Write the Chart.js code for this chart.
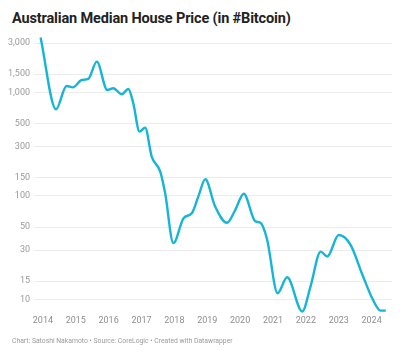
<!DOCTYPE html>
<html>
<head>
<meta charset="utf-8">
<script src="https://cdn.jsdelivr.net/npm/chart.js@4/dist/chart.umd.min.js"></script>
<style>
  html, body { margin: 0; padding: 0; background: #fff; }
  body { width: 406px; height: 361px; position: relative; overflow: hidden; font-family: Roboto, "Noto Sans", sans-serif; }
  #title { position: absolute; left: 12px; top: 10px; font-size: 14.5px; font-weight: 700; color: #222; letter-spacing: -0.15px; white-space: nowrap; }
  #footer { position: absolute; left: 12px; top: 337px; font-size: 6.8px; color: #9a9a9a; white-space: nowrap; }
  #wrap { position: absolute; left: 0; top: 0; width: 406px; height: 361px; }
</style>
</head>
<body>
<div id="title">Australian Median House Price (in #Bitcoin)</div>
<div id="wrap"><canvas id="chart"></canvas></div>
<div id="footer">Chart: Satoshi Nakamoto • Source: CoreLogic • Created with Datawrapper</div>
<script>
// -----------------------------
// Data
// -----------------------------
const years = [
  2013.93, 2014.40, 2014.72, 2014.91, 2015.18, 2015.38, 2015.64, 2015.96,
  2016.14, 2016.40, 2016.60, 2016.75, 2016.94, 2017.11, 2017.31, 2017.57,
  2017.72, 2017.97, 2018.28, 2018.53, 2018.73, 2018.94, 2019.24, 2019.60,
  2019.85, 2020.11, 2020.46, 2020.62, 2020.82, 2021.14, 2021.43, 2021.89,
  2022.14, 2022.45, 2022.65, 2023.00, 2023.36, 2023.72, 2024.07, 2024.27,
  2024.43
];
const priceBtc = [
  3400, 687, 1153, 1120, 1318, 1349, 1982, 1054,
  1096, 960, 1080, 785, 418, 457, 240, 172,
  106, 35, 61, 68, 99, 145, 79, 55,
  73, 105, 57, 55, 38, 11.5, 16.4, 7.65,
  13.3, 29, 26, 42, 33.7, 17.3, 9.5, 7.8,
  7.8
];
const yearTicks = [2014, 2015, 2016, 2017, 2018, 2019, 2020, 2021, 2022, 2023, 2024];
const priceTicks = [10, 15, 30, 50, 100, 150, 300, 500, 1000, 1500, 3000];

const points = years.map((x, i) => ({ x: x, y: priceBtc[i] }));

const ctx = document.getElementById("chart").getContext("2d");

new Chart(ctx, {
  type: "line",
  data: {
    datasets: [
      {
        label: "Median house price (BTC)",
        data: points,
        borderColor: "#16b5d7",
        borderWidth: 2.4,
        pointRadius: 0,
        fill: false,
        cubicInterpolationMode: "monotone"
      }
    ]
  },
  options: {
    responsive: true,
    maintainAspectRatio: false,
    animation: false,
    layout: { padding: { top: 33, right: 14, bottom: 30, left: 0 } },
    plugins: {
      legend: { display: false },
      tooltip: { enabled: false }
    },
    scales: {
      x: {
        type: "linear",
        min: 2013.73,
        max: 2024.62,
        afterBuildTicks: (scale) => { scale.ticks = yearTicks.map((v) => ({ value: v })); },
        afterFit: (scale) => { scale.height = 18; },
        grid: { display: false, drawTicks: false },
        border: { display: false },
        ticks: {
          color: "#8f8f8f",
          font: { family: "Roboto", size: 9 },
          padding: 2,
          maxRotation: 0,
          callback: (v) => String(v)
        }
      },
      y: {
        type: "logarithmic",
        min: 7.4,
        max: 3750,
        afterBuildTicks: (scale) => { scale.ticks = priceTicks.map((v) => ({ value: v })); },
        afterFit: (scale) => { scale.width = 34; },
        grid: { color: "#ececec", lineWidth: 1, drawTicks: false },
        border: { display: false },
        ticks: {
          color: "#9a9a9a",
          font: { family: "Roboto", size: 9 },
          padding: 4,
          callback: (v) => v.toLocaleString("en-US")
        }
      }
    }
  }
});
</script>
</body>
</html>
